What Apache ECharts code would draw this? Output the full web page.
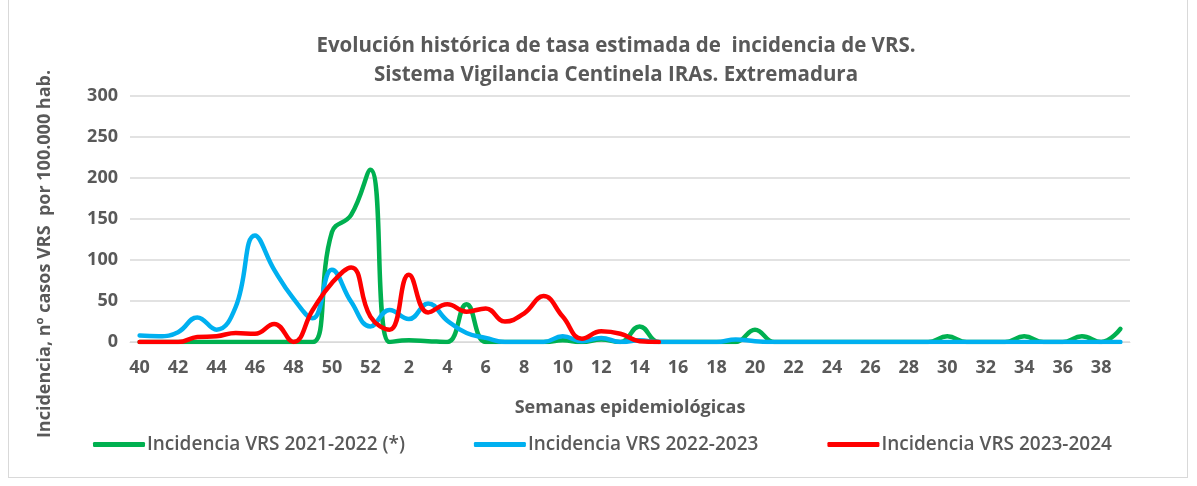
<!DOCTYPE html>
<html>
<head>
<meta charset="utf-8">
<script src="https://cdn.jsdelivr.net/npm/echarts@6/dist/echarts.min.js"></script>
<style>
	html,body{margin:0;padding:0;background:#fff;}
	#frame{position:absolute;left:8px;top:0;width:1180px;height:478px;border:1px solid #d9d9d9;border-top:none;box-sizing:border-box;}
	#chart{position:absolute;left:0;top:0;width:1197px;height:486px;}
</style>
</head>
<body>
<div id="frame"></div>
<div id="chart"></div>
<script>
//semanas 40..52 y 1..39
var weeks = [40,41,42,43,44,45,46,47,48,49,50,51,52,
	1,2,3,4,5,6,7,8,9,10,11,12,13,14,15,16,17,18,19,20,21,22,23,24,25,26,27,28,29,30,31,32,33,34,35,36,37,38,39];
var vrs2122 = [0,0,0,0,0,0,0,0,0,0,134,155,210,
	0,2,1,0,46,0,0,0,0,2,0,3,0,19,0,0,0,0,0,15,0,0,0,0,0,0,0,0,0,7,0,0,0,7,0,0,7,0,16];
var vrs2223 = [8,7,12,30,15,43,130,88,53,29,88,49,19,
	39,28,47,26,11,5,0,0,0,7,1,5,0,2,0,0,0,0,3,1,0,0,0,0,0,0,0,0,0,0,0,0,0,0,0,0,0,0,0];
var vrs2324 = [0,0,0,6,7,11,10,22,0,39,72,91,31,
	15,82,36,46,37,41,25,35,56,31,4,13,10,1,0];
var seriesNames = ['Incidencia VRS 2021-2022 (*)','Incidencia VRS 2022-2023','Incidencia VRS 2023-2024'];
var colors = ['#00B050','#00B0F0','#FF0000'];

var chart = echarts.init(document.getElementById('chart'));
var gray = '#595959';
var font = '"Open Sans", sans-serif';
var mkSeries = function(i, data){
	return {
		name: seriesNames[i],
		type: 'line',
		data: data,
		smooth: 0.45,
		symbol: 'none',
		lineStyle: {width: 4.5, color: colors[i], cap: 'round'},
		itemStyle: {color: colors[i]}
	};
};
chart.setOption({
	animation: false,
	title: {
		text: 'Evolución histórica de tasa estimada de  incidencia de VRS.\nSistema Vigilancia Centinela IRAs. Extremadura',
		left: 611, top: 27, textAlign: 'center',
		textStyle: {color: gray, fontSize: 20.5, fontWeight: 'bold', lineHeight: 29, fontFamily: font}
	},
	legend: {
		top: 430, left: 88, itemGap: 69, itemWidth: 52, itemHeight: 5,
		icon: 'roundRect',
		textStyle: {color: gray, fontSize: 19, fontWeight: 600, fontFamily: font, padding: [0,0,0,-3]},
		data: seriesNames
	},
	graphic: [{
		type: 'text', x: 45, y: 254, rotation: Math.PI / 2,
		style: {
			text: 'Incidencia, nº casos VRS  por 100.000 hab.',
			fill: gray, font: 'bold 18px "Open Sans", sans-serif',
			align: 'center', verticalAlign: 'middle'
		}
	}],
	grid: {left: 130, right: 67, top: 96, bottom: 144},
	xAxis: {
		type: 'category',
		data: weeks,
		boundaryGap: true,
		name: 'Semanas epidemiológicas',
		nameLocation: 'middle', nameGap: 57,
		nameTextStyle: {color: gray, fontSize: 18, fontWeight: 'bold', fontFamily: font},
		axisLine: {lineStyle: {color: '#d9d9d9', width: 1}},
		axisTick: {show: false},
		axisLabel: {interval: 1, color: gray, fontSize: 18, fontWeight: 'bold', margin: 17, fontFamily: font}
	},
	yAxis: {
		type: 'value', min: 0, max: 300, interval: 50,
		axisLine: {show: false},
		axisTick: {show: false},
		splitLine: {lineStyle: {color: '#d9d9d9', width: 1.5}},
		axisLabel: {color: gray, fontSize: 18, fontWeight: 'bold', margin: 12, fontFamily: font}
	},
	series: [mkSeries(0, vrs2122), mkSeries(1, vrs2223), mkSeries(2, vrs2324)]
});
</script>
</body>
</html>
